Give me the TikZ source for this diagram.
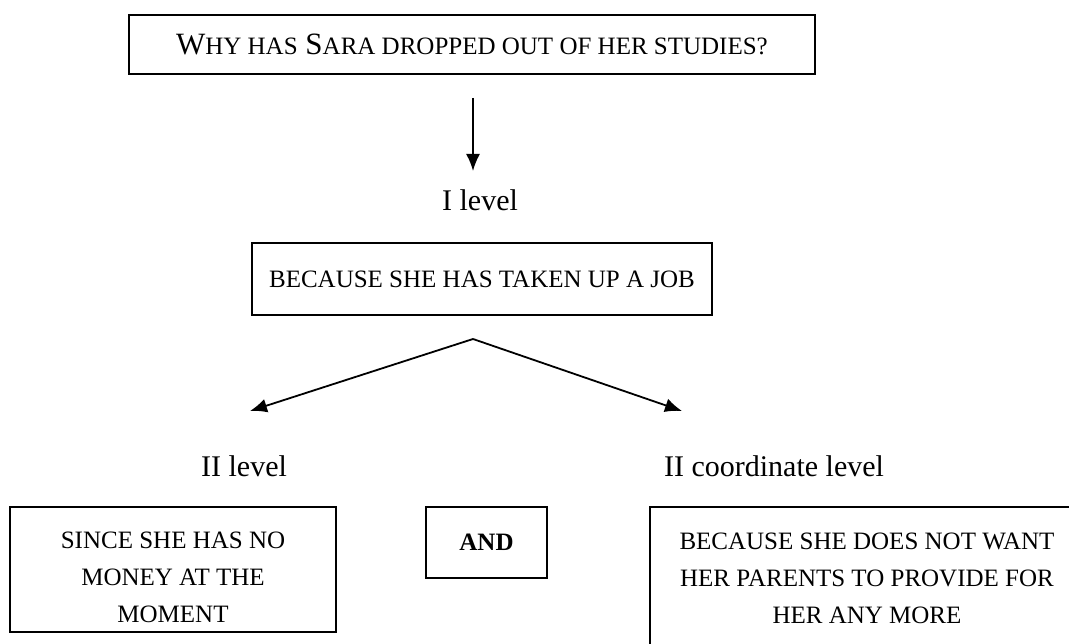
\documentclass[tikz,border=0pt]{standalone}
\usepackage{fontspec}
\setmainfont{Liberation Serif}
\usetikzlibrary{arrows.meta, positioning}
\newcommand{\smc}[1]{{\fontsize{25}{30}\selectfont #1}}

\begin{document}
\begin{tikzpicture}[x=1pt, y=-1pt,
box/.style={
	rectangle,
	draw,
	line width=2.1pt,
	align=center,
	inner sep=0pt,
	font=\fontsize{25}{37}\selectfont},
lvl/.style={
	font=\fontsize{30}{36}\selectfont,
	inner sep=0pt},
post/.style={
	-{Latex[length=17pt, width=14pt]},
	draw,
	line width=1.8pt}]

\clip (0,0) rectangle (1069,644);

%Question
\node[box, minimum width=686pt, minimum height=59pt, font=\fontsize{31}{36}\selectfont] (why) at (472,44.5) {W\smc{HY HAS} S\smc{ARA DROPPED OUT OF HER STUDIES?}};

\coordinate (q1) at (473,98);
\coordinate (q2) at (473,171);
\path[post] (q1) -- (q2);

\node[lvl] (lev1) at (480,200) {I level};

%I level
\node[box, minimum width=460pt, minimum height=72pt] (job) at (482,279) {BECAUSE SHE HAS TAKEN UP A JOB};

\coordinate (fork) at (473,339);
\coordinate (tipL) at (250,411);
\coordinate (tipR) at (682,411);
\path[post] (fork) -- (tipL);
\path[post] (fork) -- (tipR);

%II level
\node[lvl] (lev2) at (244,466) {II level};
\node[lvl] (lev2c) at (774,466) {II coordinate level};

\node[box, minimum width=326pt, minimum height=125pt] (since) at (173,569.5) {\rule{0pt}{33pt}SINCE SHE HAS NO\\MONEY AT THE\\MOMENT};
\node[box, minimum width=121pt, minimum height=71pt, font=\fontsize{25}{30}\selectfont\bfseries] (and) at (486.5,542.5) {AND};
\node[box, minimum width=434pt, minimum height=143pt] (because) at (867,578.5) {BECAUSE SHE DOES NOT WANT\\HER PARENTS TO PROVIDE FOR\\HER ANY MORE};

\end{tikzpicture}
\end{document}
